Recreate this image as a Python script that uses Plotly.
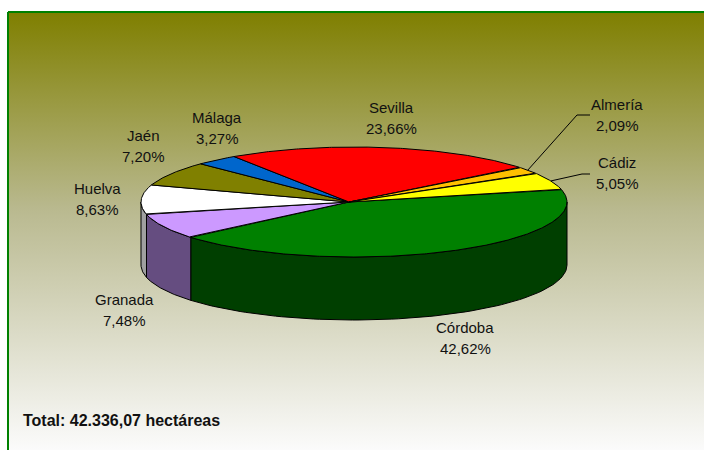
import numpy as np
import plotly.graph_objects as go

# ---- data ----
provincias = ["Córdoba", "Granada", "Huelva", "Jaén", "Málaga", "Sevilla", "Almería", "Cádiz"]
porcentajes = [42.62, 7.48, 8.63, 7.20, 3.27, 23.66, 2.09, 5.05]
total_texto = "Total: 42.336,07 hectáreas"

# ---- styles ----
colores_sup = ["#008000", "#cc99ff", "#ffffff", "#808000", "#0066cc", "#ff0000", "#ffc000", "#ffff00"]
colores_lat = ["#003f00", "#654d80", "#a0a0a0", "#404000", "#003366", "#800000", "#806000", "#808000"]

W, H = 704, 450
CX, CY, RX, RY, DEPTH = 354, 202, 213, 55, 63   # ellipse of the top face
VX, VY = 349, 202                               # common vertex of slices
START = 13.4  # degrees, slices go clockwise

# label anchor positions (name line, percentage line share x)
label_pos = {
    "Córdoba": (465, 327), "Granada": (124, 299), "Huelva": (97, 188),
    "Jaén": (143, 135), "Málaga": (217, 117), "Sevilla": (391, 107),
    "Almería": (617, 104), "Cádiz": (617, 162),
}
leader_elbow = {"Almería": [(577, 115), (590, 115)], "Cádiz": [(582, 174), (590, 174)]}

FONT = "Liberation Sans, Arial, sans-serif"


def ell(phi_deg, dy=0.0):
    p = np.radians(phi_deg)
    return CX + RX * np.cos(p), CY - RY * np.sin(p) + dy


fig = go.Figure()

# background gradient panel
fig.add_trace(go.Scatter(
    x=[8, W, W, 8, 8], y=[12, 12, H, H, 12],
    mode="none", fill="toself",
    fillgradient=dict(type="vertical", colorscale=[[0, "#7f7f00"], [0.45, "#b9b98f"], [1, "#fbfbfb"]],
                      start=12, stop=H),
    hoverinfo="skip", showlegend=False))

total = sum(porcentajes)
bounds = [START]
for p in porcentajes:
    bounds.append(bounds[-1] - p / total * 360.0)

# side walls (front half only)
for i, name in enumerate(provincias):
    hi, lo = bounds[i], bounds[i + 1]
    for k in (-1, 0, 1):
        a, b = max(lo, -180 + 360 * k), min(hi, 360 * k)
        if b - a <= 0.01:
            continue
        ph = np.linspace(a, b, 80)
        xt, yt = ell(ph)
        xb, yb = ell(ph[::-1], DEPTH)
        xs = np.concatenate([xt, xb, xt[:1]])
        ys = np.concatenate([yt, yb, yt[:1]])
        fig.add_trace(go.Scatter(x=xs, y=ys, mode="lines", fill="toself",
                                 fillcolor=colores_lat[i], line=dict(color="black", width=1),
                                 hoverinfo="skip", showlegend=False))

# top faces
for i, name in enumerate(provincias):
    hi, lo = bounds[i], bounds[i + 1]
    ph = np.linspace(hi, lo, max(8, int((hi - lo) * 2)))
    xa, ya = ell(ph)
    xs = np.concatenate([[VX], xa, [VX]])
    ys = np.concatenate([[VY], ya, [VY]])
    fig.add_trace(go.Scatter(x=xs, y=ys, mode="lines", fill="toself",
                             fillcolor=colores_sup[i], line=dict(color="black", width=1),
                             hoverinfo="text", text=f"{name}: {porcentajes[i]:.2f}%",
                             showlegend=False))

# leader lines
for i, name in enumerate(provincias):
    if name in leader_elbow:
        mid = (bounds[i] + bounds[i + 1]) / 2
        x0, y0 = ell(mid)
        pts = [(x0, y0)] + leader_elbow[name]
        fig.add_trace(go.Scatter(x=[p[0] for p in pts], y=[p[1] for p in pts], mode="lines",
                                 line=dict(color="black", width=1), hoverinfo="skip", showlegend=False))

annotations = []
for i, name in enumerate(provincias):
    x, y = label_pos[name]
    pct = f"{porcentajes[i]:.2f}".replace(".", ",") + "%"
    for txt, yy in ((name, y), (pct, y + 21)):
        annotations.append(dict(x=x, y=yy, xref="x", yref="y", text=txt, showarrow=False,
                                font=dict(family=FONT, size=15, color="#111111"),
                                xanchor="center", yanchor="middle"))
annotations.append(dict(x=21, y=420, xref="x", yref="y", text=f"<b>{total_texto}</b>", showarrow=False,
                        font=dict(family=FONT, size=16, color="#111111"),
                        xanchor="left", yanchor="middle"))

shapes = [
    dict(type="line", xref="x", yref="y", x0=8, x1=W, y0=12, y1=12, line=dict(color="#008000", width=2)),
    dict(type="line", xref="x", yref="y", x0=8, x1=8, y0=12, y1=H, line=dict(color="#008000", width=2)),
]

fig.update_layout(
    width=W, height=H, autosize=False,
    margin=dict(l=0, r=0, t=0, b=0),
    paper_bgcolor="white", plot_bgcolor="white",
    xaxis=dict(range=[0, W], visible=False, fixedrange=True),
    yaxis=dict(range=[H, 0], visible=False, fixedrange=True),
    annotations=annotations, shapes=shapes, showlegend=False,
)

fig.write_html("out.html", config={"displayModeBar": False},
               post_script="document.body.style.margin='0';document.body.style.overflow='hidden';")
